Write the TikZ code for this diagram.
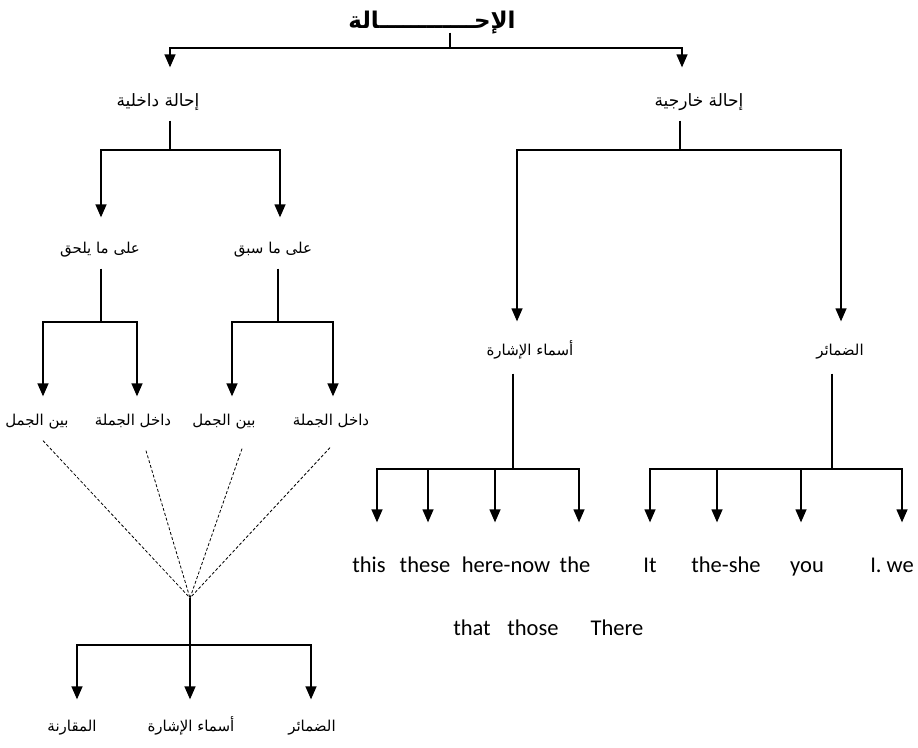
\documentclass[tikz,border=0pt]{standalone}
\usepackage{fontspec}
\setmainfont{Carlito}
\newfontfamily\arfont[Script=Arabic]{DejaVu Sans}
\TeXXeTstate=1
\usetikzlibrary{arrows.meta}
\newcommand{\AR}[1]{\beginR #1\endR}
\begin{document}
\begin{tikzpicture}[x=1pt,y=-1pt,line width=1.3pt,
  lbl/.style={inner sep=0pt,text height=10pt,text depth=4pt,font=\arfont\fontsize{15}{17}\selectfont},
  big/.style={lbl,font=\arfont\fontsize{17}{19}\selectfont},
  ttl/.style={inner sep=0pt,text height=14pt,text depth=4pt,font=\arfont\bfseries\fontsize{23}{26}\selectfont},
  en/.style={inner sep=0pt,text height=14pt,text depth=4pt,font=\fontsize{22.5}{25}\selectfont},
  arr/.style={-{Triangle[length=13pt,width=11pt]}},
  sh/.style={shorten >=#1},
  ss/.style={shorten <=#1},
  dsh/.style={line width=0.8pt,dash pattern=on 3pt off 2pt}]
\useasboundingbox (0,0) rectangle (918,747);
\fill[white] (0,0) rectangle (918,747);

% title
\node[ttl] (title) at (432,23) {\AR{الإحــــــــــــالة}};
\coordinate (jtop) at (450,48);
\node[big] (int) at (158,103) {\AR{إحالة داخلية}};
\node[big] (ext) at (699,103) {\AR{إحالة خارجية}};
\draw[ss=0] ([xshift=18pt]title.south) -- (jtop);
\draw[arr,sh=28] (jtop) -| ([xshift=12pt]int.north);
\draw[arr,sh=28] (jtop) -| ([xshift=-17pt]ext.north);

% internal reference
\coordinate (jint) at (170,150);
\draw[ss=10] ([xshift=12pt]int.south) -- (jint);
\node[lbl] (l1) at (100,250) {\AR{على ما يلحق}};
\node[lbl] (l2) at (273,250) {\AR{على ما سبق}};
\draw[arr,sh=25] (jint) -| ([xshift=1pt]l1.north);
\draw[arr,sh=25] (jint) -| ([xshift=7pt]l2.north);

\coordinate (j1) at (101,322);
\coordinate (j2) at (278,322);
\draw[ss=11] ([xshift=1pt]l1.south) -- (j1);
\draw[ss=11] ([xshift=5pt]l2.south) -- (j2);
\node[lbl] (a1) at (37,422) {\AR{بين الجمل}};
\node[lbl] (a2) at (133,422) {\AR{داخل الجملة}};
\node[lbl] (a3) at (224,422) {\AR{بين الجمل}};
\node[lbl] (a4) at (331,422) {\AR{داخل الجملة}};
\draw[arr,sh=18] (j1) -| ([xshift=6pt]a1.north);
\draw[arr,sh=18] (j1) -| ([xshift=4pt]a2.north);
\draw[arr,sh=18] (j2) -| ([xshift=8pt]a3.north);
\draw[arr,sh=18] (j2) -| ([xshift=2pt]a4.north);

% dashed convergence
\coordinate (c) at (190,598);
\draw[dsh] ([xshift=6pt,yshift=-11pt]a1.south) -- (c);
\draw[dsh] ([xshift=13pt,yshift=-21pt]a2.south) -- (c);
\draw[dsh] ([xshift=18pt,yshift=-19pt]a3.south) -- (c);
\draw[dsh] ([xshift=-1pt,yshift=-18pt]a4.south) -- (c);

\coordinate (jb) at (190,645);
\draw (c) -- (jb);
\node[lbl] (b1) at (72,728) {\AR{المقارنة}};
\node[lbl] (b2) at (191,728) {\AR{أسماء الإشارة}};
\node[lbl] (b3) at (312,728) {\AR{الضمائر}};
\draw[arr,sh=21] (jb) -| ([xshift=5pt]b1.north);
\draw[arr,sh=21] (jb) -- ([xshift=-1pt]b2.north);
\draw[arr,sh=21] (jb) -| ([xshift=-1pt]b3.north);

% external reference
\coordinate (jext) at (680,150);
\draw[ss=10] ([xshift=-19pt]ext.south) -- (jext);
\node[lbl] (r1) at (530,352) {\AR{أسماء الإشارة}};
\node[lbl] (r2) at (840,352) {\AR{الضمائر}};
\draw[arr,sh=23] (jext) -| ([xshift=-13pt]r1.north);
\draw[arr,sh=23] (jext) -| ([xshift=1pt]r2.north);

\coordinate (jr1) at (513,469);
\coordinate (jr2) at (832,469);
\draw[ss=14] ([xshift=-17pt]r1.south) -- (jr1);
\draw[ss=14] ([xshift=-8pt]r2.south) -- (jr2);

\node[en] (this) at (369,567) {this};
\node[en] (these) at (425,567) {these};
\node[en] (herenow) at (506,567) {here-now};
\node[en] (the) at (575,567) {the};
\node[en] (it) at (650,567) {It};
\node[en] (theshe) at (726,567) {the-she};
\node[en] (you) at (807,567) {you};
\node[en] (iwe) at (892,567) {I. we};
\node[en] (that) at (472,630) {that};
\node[en] (those) at (533,630) {those};
\node[en] (there) at (617,630) {There};

\draw[arr,sh=35] (jr1) -| ([xshift=8pt]this.north);
\draw[arr,sh=35] (jr1) -| ([xshift=3pt]these.north);
\draw[arr,sh=35] (jr1) -| ([xshift=-11pt]herenow.north);
\draw[arr,sh=35] (jr1) -| ([xshift=4pt]the.north);
\draw[arr,sh=35] (jr2) -| ([xshift=0pt]it.north);
\draw[arr,sh=35] (jr2) -| ([xshift=-9pt]theshe.north);
\draw[arr,sh=35] (jr2) -| ([xshift=-6pt]you.north);
\draw[arr,sh=35] (jr2) -| ([xshift=10pt]iwe.north);
\end{tikzpicture}
\end{document}
